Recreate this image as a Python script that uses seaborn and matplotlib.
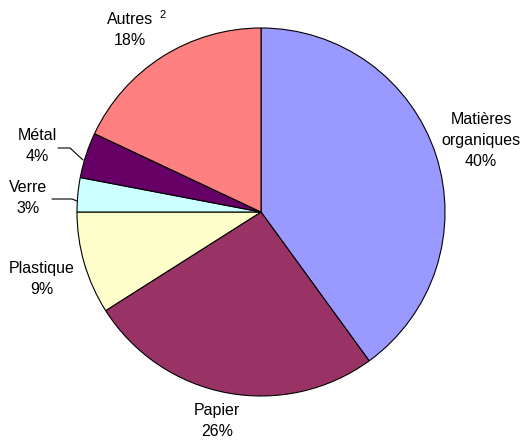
import matplotlib
matplotlib.use("Agg")
import matplotlib.pyplot as plt
import seaborn as sns

categories = ["Matières\norganiques", "Papier", "Plastique", "Verre", "Métal", "Autres"]
values = [40, 26, 9, 3, 4, 18]
pct_labels = ["40%", "26%", "9%", "3%", "4%", "18%"]
colors = ["#9999FF", "#993366", "#FFFFCC", "#CCFFFF", "#660066", "#FF8080"]

sns.set_theme(style="white")
plt.rcParams['font.family'] = ['Liberation Sans', 'DejaVu Sans']
plt.rcParams['text.color'] = 'black'

W, H = 523, 443
fig = plt.figure(figsize=(W / 100, H / 100), dpi=100)
cx, cy, R = 261, 212, 184
ax = fig.add_axes([(cx - R) / W, (H - cy - R) / H, 2 * R / W, 2 * R / H])
ax.pie(values, colors=sns.color_palette(colors), startangle=90, counterclock=False,
       radius=1, wedgeprops=dict(edgecolor="black", linewidth=0.8))
ax.set_xlim(-1, 1)
ax.set_ylim(-1, 1)
ax.set_aspect("auto")
ax.axis("off")

def d(px, py):
    return ((px - cx) / R, (cy - py) / R)

label_pos = [(481, 140), (217, 421), (42, 279), (28, 198), (37, 146), (130, 30)]
fs = 11.5
for cat, pct, (px, py) in zip(categories, pct_labels, label_pos):
    x, y = d(px, py)
    ax.text(x, y, f"{cat}\n{pct}", ha="center", va="center", fontsize=fs,
            linespacing=1.5, color="black", clip_on=False)

# superscript on "Autres"
sx, sy = d(163, 15)
ax.text(sx, sy, "2", ha="center", va="center", fontsize=8, color="black", clip_on=False)

# leader lines
for pts in ([(58, 148), (70, 148), (83, 160)], [(52, 199), (72, 199), (77, 201)]):
    xs, ys = zip(*[d(p[0], p[1]) for p in pts])
    ax.plot(xs, ys, color="black", linewidth=0.8, clip_on=False)

fig.savefig("out.png", dpi=100, facecolor="white")
